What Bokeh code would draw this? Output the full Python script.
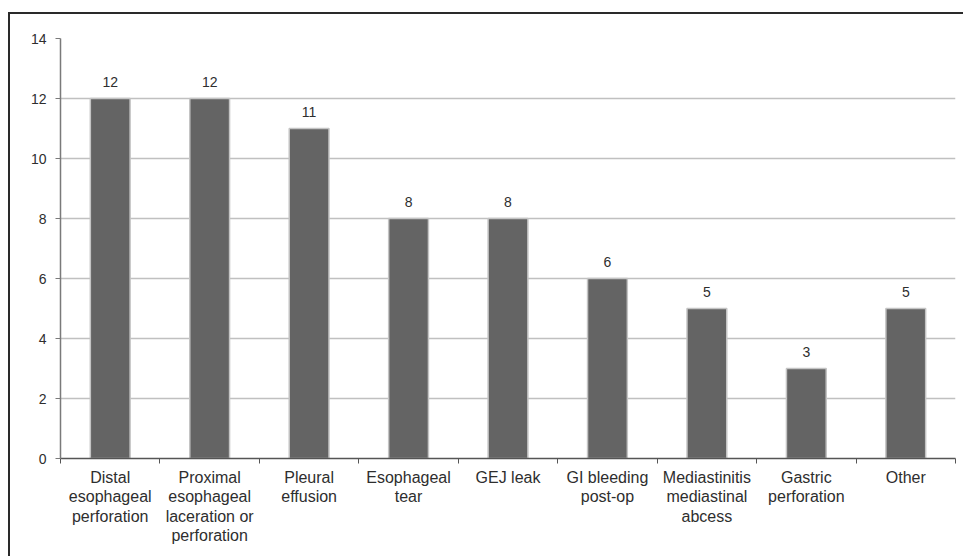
from bokeh.plotting import figure
from bokeh.models import ColumnDataSource, FixedTicker, Range1d
from bokeh.core.properties import value
from bokeh.embed import file_html
from bokeh.resources import INLINE

categories = [
    "Distal\nesophageal\nperforation",
    "Proximal\nesophageal\nlaceration or\nperforation",
    "Pleural\neffusion",
    "Esophageal\ntear",
    "GEJ leak",
    "GI bleeding\npost-op",
    "Mediastinitis\nmediastinal\nabcess",
    "Gastric\nperforation",
    "Other",
]
counts = [12, 12, 11, 8, 8, 6, 5, 3, 5]
y_ticks = [0, 2, 4, 6, 8, 10, 12, 14]

FONT = "Liberation Sans"
TXT = "#2e2e2e"

xs = [i + 0.5 for i in range(len(categories))]
src = ColumnDataSource(dict(x=xs, top=counts, lab=[str(c) for c in counts]))

p = figure(
    width=955, height=544,
    output_backend="svg", toolbar_location=None,
    x_range=Range1d(0, len(categories)), y_range=Range1d(0, 14),
    min_border_left=50, min_border_right=10, min_border_top=24, min_border_bottom=100,
)
p.margin = (12, 0, 0, 8)
p.styles = {"border-top": "2px solid #2a2a2a", "border-left": "2px solid #2a2a2a"}
p.outline_line_color = None
p.background_fill_color = "white"
p.border_fill_color = "white"

p.vbar(x="x", top="top", width=0.4, bottom=0, source=src,
       fill_color="#646464", line_color="#c4c4c4", line_width=1.5)

p.text(x="x", y="top", text="lab", source=src, y_offset=-17,
       text_align="center", text_baseline="alphabetic",
       text_font=value(FONT), text_font_size="14px", text_color=TXT)

# y axis
p.yaxis.ticker = FixedTicker(ticks=y_ticks)
p.yaxis.axis_line_color = "#7a7a7a"
p.yaxis.axis_line_width = 1.5
p.yaxis.major_tick_line_color = "#7a7a7a"
p.yaxis.major_tick_out = 5
p.yaxis.major_tick_in = 0
p.yaxis.minor_tick_line_color = None
p.yaxis.major_label_standoff = 9
p.yaxis.major_label_text_font = FONT
p.yaxis.major_label_text_font_size = "14px"
p.yaxis.major_label_text_color = TXT

# x axis: labels at category centres, ticks at category boundaries
p.xaxis.ticker = FixedTicker(ticks=xs, minor_ticks=list(range(len(categories) + 1)))
p.xaxis.major_label_overrides = {x: c for x, c in zip(xs, categories)}
p.xaxis.major_tick_line_color = None
p.xaxis.major_tick_out = 0
p.xaxis.major_tick_in = 0
p.xaxis.minor_tick_line_color = "#555555"
p.xaxis.minor_tick_out = 5
p.xaxis.minor_tick_in = 0
p.xaxis.axis_line_color = "#555555"
p.xaxis.axis_line_width = 1.5
p.xaxis.major_label_standoff = 5
p.xaxis.major_label_text_font = FONT
p.xaxis.major_label_text_font_size = "16px"
p.xaxis.major_label_text_color = TXT
p.xaxis.major_label_text_line_height = 1.15

p.xgrid.grid_line_color = None
p.ygrid.ticker = FixedTicker(ticks=y_ticks)
p.ygrid.grid_line_color = "#c0c0c0"
p.ygrid.grid_line_width = 1.5

open("out.html", "w").write(file_html(p, INLINE))
